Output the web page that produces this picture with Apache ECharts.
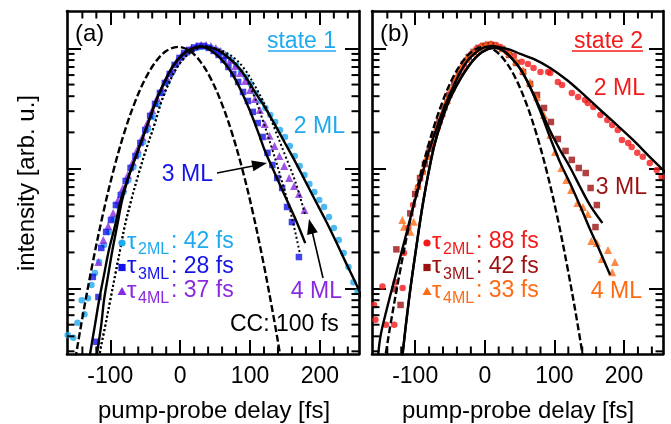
<!DOCTYPE html>
<html><head><meta charset="utf-8">
<script src="https://cdn.jsdelivr.net/npm/echarts@6/dist/echarts.min.js"></script>
<style>html,body{margin:0;padding:0;background:#fff}#c{width:671px;height:424px}</style>
</head><body><div id="c"></div>
<script>
// ---- tick values ----
const delayMajorTicks = [-100, 0, 100, 200];
const delayMinorTicks = [-140, -120, -80, -60, -40, -20, 20, 40, 60, 80, 120, 140, 160, 180, 220, 240];
const intensityMajorTicks = [0.01, 0.1, 1];
const intensityMinorTicks = [0.003, 0.004, 0.005, 0.006, 0.007, 0.008, 0.009,
  0.02, 0.03, 0.04, 0.05, 0.06, 0.07, 0.08, 0.09,
  0.2, 0.3, 0.4, 0.5, 0.6, 0.7, 0.8, 0.9];

// ---- panel (a): state 1 data [delay fs, intensity] ----
const a2ML = [[-161,0.0041],[-153,0.0039],[-147,0.0052],[-141,0.0080],[-137,0.0061],[-132,0.0083],[-127,0.0107],[-122,0.0135],
  [-116,0.0166],[-109,0.0230],[-102,0.0296],[-95,0.0380],[-88,0.0487],[-81,0.0637],[-74,0.0802],[-67,0.103],[-60,0.130],[-53,0.166],
  [-46,0.213],[-39,0.269],[-32,0.345],[-25,0.426],[-18,0.526],[-11,0.637],[-4,0.757],[3,0.849],[10,0.917],[17,0.972],[24,1.010],[31,1.029],[38,1.029],
  [45,1.010],[52,0.972],[59,0.917],[66,0.866],[73,0.802],[80,0.729],[87,0.637],[94,0.579],[101,0.506],[108,0.426],[115,0.365],[122,0.319],
  [129,0.279],[136,0.244],[143,0.209],[150,0.183],[157,0.154],[164,0.127],[171,0.105],[178,0.0883],[185,0.0743],[192,0.0637],[199,0.0546],
  [206,0.0478],[213,0.0394],[220,0.0319],[227,0.0254],[234,0.0198],[241,0.0151],[248,0.0113],[254,0.0094]];
const a3ML = [[-125,0.0125],[-120,0.0036],[-117,0.0085],[-113,0.0218],[-106,0.0296],[-99,0.0372],[-92,0.0496],[-85,0.0601],[-78,0.0787],
  [-71,0.101],[-64,0.127],[-57,0.163],[-50,0.209],[-43,0.274],[-36,0.345],[-29,0.426],[-22,0.516],[-15,0.613],[-8,0.729],[-1,0.833],
  [6,0.917],[13,0.972],[20,1.019],[27,1.049],[34,1.049],[41,1.010],[48,0.953],[55,0.883],[62,0.802],[69,0.701],[76,0.613],[83,0.526],
  [90,0.434],[97,0.365],[104,0.296],[111,0.239],[118,0.183],[125,0.135],[132,0.107],[139,0.0833],[146,0.0688],[153,0.0478],[160,0.0358],[170,0.0183]];
const a4ML = [[-117,0.0166],[-110,0.0254],[-103,0.0332],[-96,0.0426],[-89,0.0546],[-82,0.0688],[-75,0.0883],[-68,0.113],[-61,0.145],
  [-54,0.183],[-47,0.239],[-40,0.307],[-33,0.387],[-26,0.469],[-19,0.568],[-12,0.675],[-5,0.787],[2,0.883],[9,0.953],[16,1.010],[23,1.049],
  [30,1.070],[37,1.070],[44,1.049],[51,1.010],[58,0.953],[65,0.883],[72,0.802],[79,0.715],[86,0.625],[93,0.536],[100,0.451],[107,0.380],
  [114,0.307],[121,0.235],[128,0.187],[135,0.154],[142,0.127],[149,0.105],[156,0.0833],[163,0.0715],[170,0.0613],[178,0.0451]];
const aCC = [[-150,0.0026],[-140,0.0057],[-125,0.0166],[-110,0.0431],[-95,0.0986],[-80,0.199],[-65,0.354],[-50,0.558],[-35,0.776],[-20,0.951],
  [-3,1.03],[14,0.951],[29,0.776],[44,0.558],[59,0.354],[74,0.199],[89,0.0986],[104,0.0431],[119,0.0166],[134,0.0057],[144,0.0026],[155,0.0010]];
const aFit2ML = [[-123,0.00173],[-119,0.00285],[-113,0.00496],[-109,0.00802],[-103,0.0130],[-97,0.0209],[-90,0.0338],[-83,0.0546],[-73,0.0883],
  [-60,0.143],[-47,0.230],[-34,0.372],[-21,0.546],[-10,0.715],[3,0.883],[16,0.990],[29,1.039],[50,0.990],[64,0.883],[79,0.743],[93,0.590],
  [107,0.434],[122,0.319],[136,0.230],[150,0.163],[165,0.113],[179,0.0787],[193,0.0546],[208,0.0372],[222,0.0254],[236,0.0170],[257,0.00935],[265,0.0068]];
const aFit3ML = [[-135,0.00173],[-129,0.00285],[-122,0.00496],[-116,0.00802],[-109,0.0130],[-102,0.0209],[-93,0.0338],[-85,0.0546],[-73,0.0883],
  [-60,0.143],[-47,0.230],[-34,0.372],[-21,0.546],[-10,0.715],[3,0.883],[16,0.990],[29,1.039],[43,0.972],[57,0.833],[72,0.649],[86,0.460],
  [100,0.301],[112,0.198],[122,0.137],[136,0.0900],[150,0.0590],[165,0.0380],[179,0.0239]];
const aDot3ML = [[-117,0.00173],[-115,0.00285],[-107,0.00496],[-100,0.00802],[-93,0.0130],[-86,0.0209],[-79,0.0338],[-70,0.0546],[-60,0.0883],
  [-49,0.143],[-37,0.230],[-26,0.372],[-14,0.546],[-3,0.715],[10,0.883],[23,0.990],[36,1.039],[50,0.990],[64,0.900],[79,0.757],[93,0.579],
  [107,0.387],[120,0.235],[132,0.143],[143,0.0883],[158,0.0434],[171,0.0201]];
const aDot4ML = [[-117,0.00173],[-115,0.00285],[-107,0.00496],[-100,0.00802],[-93,0.0130],[-86,0.0209],[-79,0.0338],[-70,0.0546],[-60,0.0883],
  [-49,0.143],[-37,0.230],[-26,0.372],[-14,0.546],[-3,0.715],[10,0.883],[23,0.990],[36,1.039],[50,1.0],[64,0.935],[79,0.818],[93,0.662],
  [107,0.487],[122,0.332],[136,0.209],[150,0.130],[165,0.0772],[179,0.0410]];

// ---- panel (b): state 2 data ----
const b2ML = [[-159,0.0073],[-157,0.0055],[-147,0.0104],[-142,0.0050],[-130,0.0050],[-128,0.0113],[-118,0.0101],[-116,0.0198],
  [-110,0.0319],[-103,0.0496],[-96,0.0701],[-89,0.0935],[-82,0.125],[-75,0.163],[-68,0.218],[-61,0.279],[-54,0.358],[-47,0.451],[-40,0.568],
  [-33,0.688],[-26,0.802],[-19,0.900],[-12,0.990],[-5,1.039],[2,1.070],[9,1.090],[16,1.070],[22,1.029],[32,0.935],[42,0.866],[53,0.776],
  [62,0.743],[70,0.688],[80,0.637],[91,0.637],[94,0.625],[105,0.526],[111,0.496],[125,0.426],[134,0.394],[144,0.372],[148,0.351],[156,0.325],
  [166,0.279],[176,0.254],[183,0.230],[191,0.209],[197,0.173],[206,0.163],[211,0.151],[219,0.135],[227,0.125],[237,0.111],[247,0.0972],[254,0.0849]];
const b3ML = [[-130,0.0099],[-127,0.0212],[-121,0.0073],[-107,0.0423],[-100,0.0613],[-93,0.0833],[-86,0.109],[-79,0.146],[-72,0.194],
  [-65,0.249],[-58,0.325],[-51,0.410],[-44,0.516],[-37,0.625],[-30,0.743],[-23,0.849],[-16,0.935],[-9,1.010],[-2,1.049],[5,1.070],[12,1.059],
  [25,0.990],[35,0.883],[45,0.757],[55,0.637],[65,0.506],[75,0.410],[85,0.319],[95,0.244],[105,0.176],[116,0.140],[125,0.118],[135,0.101],
  [145,0.0917],[152,0.0688],[159,0.0325],[161,0.0496]];
const b4ML = [[-118.5,0.0372],[-116,0.0327],[-107,0.0297],[-102,0.0360],[-96.5,0.0715],[-89.5,0.0953],[-82.5,0.127],[-75.5,0.170],
  [-68.5,0.226],[-61.5,0.290],[-54.5,0.372],[-47.5,0.469],[-40.5,0.579],[-33.5,0.701],[-26.5,0.818],[-19.5,0.917],[-12.5,0.990],[-5.5,1.049],
  [1.5,1.080],[8.5,1.090],[15,1.059],[25,1.010],[35,0.917],[45,0.787],[55,0.662],[65,0.526],[75,0.394],[85,0.279],[94,0.190],[101,0.137],
  [110,0.101],[117,0.0802],[124,0.0662],[133,0.0516],[141,0.0478],[148,0.0418],[153,0.0249],[161,0.0239],[168,0.0176],[177,0.0209],[183,0.0137],[187,0.0166]];
const bCC = [[-151,0.00136],[-136,0.00479],[-121,0.0147],[-106,0.0400],[-91,0.0946],[-76,0.196],[-61,0.356],[-46,0.568],[-31,0.790],[-16,0.964],
  [-1,1.03],[14,0.964],[29,0.790],[44,0.568],[59,0.356],[74,0.196],[89,0.0946],[104,0.0400],[119,0.0147],[134,0.00479],[149,0.00136]];
const bFit2ML = [[-155,0.00209],[-150,0.00394],[-140,0.00701],[-128,0.0130],[-115,0.0254],[-102,0.0496],[-92,0.0802],[-81,0.135],[-69,0.218],
  [-58,0.325],[-46,0.469],[-35,0.637],[-24,0.802],[-12,0.935],[-1,1.019],[11,1.049],[22,1.019],[37,0.972],[51,0.900],[70,0.818],[94,0.688],
  [118,0.546],[141,0.418],[166,0.307],[190,0.230],[213,0.173],[234,0.130],[256,0.0972],[266,0.085]];
const bFit3ML = [[-121,0.00173],[-118,0.00285],[-109,0.00802],[-99,0.0209],[-88,0.0546],[-74,0.143],[-64,0.230],[-51,0.372],[-36,0.546],
  [-23,0.715],[-9,0.883],[5,0.990],[15,1.010],[25,0.972],[37,0.849],[51,0.675],[65,0.478],[80,0.313],[94,0.205],[108,0.143],[123,0.101],
  [137,0.0701],[151,0.0496],[169,0.0352]];
const bFit4ML = [[-121,0.00173],[-118,0.00285],[-109,0.00802],[-99,0.0209],[-88,0.0546],[-74,0.143],[-64,0.230],[-51,0.372],[-36,0.546],
  [-23,0.715],[-9,0.883],[5,0.990],[15,1.010],[25,0.972],[37,0.849],[51,0.675],[65,0.478],[80,0.296],[94,0.180],[108,0.113],[123,0.0743],
  [137,0.0487],[151,0.0313],[166,0.0201],[180,0.0130]];

// ---- styling ----
const FONT = '"Liberation Sans", Arial, Helvetica, sans-serif';
const C_A2 = '#1fa9ef', C_A3 = '#1414e8', C_A4 = '#8a2ae0';
const C_B2 = '#f41a1a', C_B3 = '#9e1010', C_B4 = '#ff6a14';
const X_MIN = -162, X_MAX = 256, Y_MIN = 0.00285, Y_MAX = 2.05;

function xAxes(g) {
  const base = {type: 'value', gridIndex: g, min: X_MIN, max: X_MAX, splitLine: {show: false}, axisLabel: {show: false}};
  const major = {show: true, inside: true, length: 14, lineStyle: {color: '#000', width: 2}, customValues: delayMajorTicks};
  const line = {show: true, onZero: false, lineStyle: {color: '#000', width: 2.6}};
  return [
    Object.assign({}, base, {position: 'bottom', axisLine: line, axisTick: major,
      axisLabel: {show: true, customValues: delayMajorTicks, color: '#000', fontSize: 23, fontFamily: FONT, margin: 11}}),
    Object.assign({}, base, {position: 'top', axisLine: line, axisTick: major})
  ];
}
function yAxes(g) {
  const base = {type: 'log', logBase: 10, gridIndex: g, min: Y_MIN, max: Y_MAX, splitLine: {show: false}, axisLabel: {show: false}};
  const major = {show: true, inside: true, length: 14, lineStyle: {color: '#000', width: 2}, customValues: intensityMajorTicks};
  const line = {show: true, onZero: false, lineStyle: {color: '#000', width: 2.6}};
  return [
    Object.assign({}, base, {position: 'left', axisLine: line, axisTick: major}),
    Object.assign({}, base, {position: 'right', axisLine: line, axisTick: major})
  ];
}
function scatter(data, xi, yi, symbol, size, color) {
  return {type: 'scatter', xAxisIndex: xi, yAxisIndex: yi, data: data, symbol: symbol, symbolSize: size,
    itemStyle: {color: color}, z: 2, silent: true};
}
function curve(data, xi, yi, kind) {
  const ls = {color: '#000', width: 2.4, type: 'solid'};
  if (kind === 'dashed') { ls.type = [7, 3]; ls.width = 2.4; }
  if (kind === 'dotted') { ls.type = [2, 2.5]; ls.width = 2; }
  return {type: 'line', xAxisIndex: xi, yAxisIndex: yi, data: data, showSymbol: false, smooth: 0.35,
    lineStyle: ls, z: 3, silent: true, clip: true};
}

const T = (text, x, y, size, color, align, extra) => Object.assign({type: 'text', x: x, y: y, z: 10, silent: true,
  style: {text: text, font: size + 'px ' + FONT, fill: color, align: align || 'left', textAlign: align || 'left',
    verticalAlign: 'middle', textVerticalAlign: 'middle'}}, extra || {});
const L = (x1, y1, x2, y2, color, w) => ({type: 'line', z: 10, silent: true,
  shape: {x1: x1, y1: y1, x2: x2, y2: y2}, style: {stroke: color, lineWidth: w}});
const P = (pts, color) => ({type: 'polygon', z: 10, silent: true, shape: {points: pts}, style: {fill: color}});

function legendRows(x0, rows) {
  const out = [];
  rows.forEach(function (r, i) {
    const y = 242 + i * 24.5;
    if (r.sym === 'circle') out.push({type: 'circle', z: 10, shape: {cx: x0, cy: y + 1, r: 3.6}, style: {fill: r.color}});
    if (r.sym === 'rect') out.push({type: 'rect', z: 10, shape: {x: x0 - 3.6, y: y - 2.6, width: 7.2, height: 7.2}, style: {fill: r.color}});
    if (r.sym === 'tri') out.push(P([[x0, y - 4], [x0 - 4.5, y + 4], [x0 + 4.5, y + 4]], r.color));
    out.push(T('τ', x0 + 5, y, 24, r.color));
    out.push(T(r.sub, x0 + 16, y + 8, 16, r.color));
    out.push(T(r.val, x0 + 49, y, 23, r.color));
  });
  return out;
}

const graphics = [
  T('intensity [arb. u.]', 27, 183, 24, '#000', 'center', {rotation: Math.PI / 2}),
  T('pump-probe delay [fs]', 214, 411, 24, '#000', 'center'),
  T('pump-probe delay [fs]', 518, 411, 24, '#000', 'center'),
  T('(a)', 75, 34, 24, '#000'),
  T('(b)', 380, 34, 24, '#000'),
  T('state 1', 336, 42, 23, C_A2, 'right'),
  L(268, 51, 336, 51, C_A2, 1.5),
  T('state 2', 643, 42, 23, C_B2, 'right'),
  L(572, 51, 643, 51, C_B2, 1.5),
  T('2 ML', 345, 127, 23, C_A2, 'right'),
  T('3 ML', 213, 175, 23, C_A3, 'right'),
  T('4 ML', 342, 292, 23, C_A4, 'right'),
  T('CC: 100 fs', 230, 325, 23, '#000'),
  T('2 ML', 645, 89, 23, C_B2, 'right'),
  T('3 ML', 647, 188, 23, C_B3, 'right'),
  T('4 ML', 642, 292, 23, C_B4, 'right'),
  L(217, 173, 253, 166, '#000', 1.6),
  P([[267, 163], [253.4, 171.3], [251.2, 160.5]], '#000'),
  L(323, 278, 312.5, 233, '#000', 1.6),
  P([[309, 219], [317.8, 232.3], [307.1, 234.9]], '#000')
].concat(legendRows(122, [
  {sym: 'circle', color: C_A2, sub: '2ML', val: ': 42 fs'},
  {sym: 'rect', color: C_A3, sub: '3ML', val: ': 28 fs'},
  {sym: 'tri', color: C_A4, sub: '4ML', val: ': 37 fs'}
])).concat(legendRows(427, [
  {sym: 'circle', color: C_B2, sub: '2ML', val: ': 88 fs'},
  {sym: 'rect', color: C_B3, sub: '3ML', val: ': 42 fs'},
  {sym: 'tri', color: C_B4, sub: '4ML', val: ': 33 fs'}
]));

const chart = echarts.init(document.getElementById('c'), null, {renderer: 'canvas'});
chart.setOption({
  animation: false,
  backgroundColor: '#fff',
  grid: [
    {left: 67, top: 11, width: 292, height: 343, containLabel: false},
    {left: 372, top: 11, width: 291, height: 343, containLabel: false}
  ],
  xAxis: xAxes(0).concat(xAxes(1)),
  yAxis: yAxes(0).concat(yAxes(1)),
  series: [
    scatter(a2ML, 0, 0, 'circle', 6.5, C_A2),
    scatter(a4ML, 0, 0, 'triangle', 8, C_A4),
    scatter(a3ML, 0, 0, 'rect', 6.5, C_A3),
    curve(aCC, 0, 0, 'dashed'),
    curve(aDot3ML, 0, 0, 'dotted'),
    curve(aDot4ML, 0, 0, 'dotted'),
    curve(aFit3ML, 0, 0, 'solid'),
    curve(aFit2ML, 0, 0, 'solid'),
    scatter(b2ML, 2, 2, 'circle', 6.5, C_B2),
    scatter(b3ML, 2, 2, 'rect', 6.5, C_B3),
    scatter(b4ML, 2, 2, 'triangle', 8, C_B4),
    curve(bCC, 2, 2, 'dashed'),
    curve(bFit2ML, 2, 2, 'solid'),
    curve(bFit3ML, 2, 2, 'solid'),
    curve(bFit4ML, 2, 2, 'solid')
  ]
});

// minor ticks on all four frame sides, positioned through each panel's own scales
function minorTickGraphics(seriesIndex) {
  const out = [];
  intensityMinorTicks.forEach(function (v) {
    const p = chart.convertToPixel({seriesIndex: seriesIndex}, [X_MIN, v]);
    const q = chart.convertToPixel({seriesIndex: seriesIndex}, [X_MAX, v]);
    out.push(L(p[0], p[1], p[0] + 7.5, p[1], '#000', 2), L(q[0] - 7.5, q[1], q[0], q[1], '#000', 2));
  });
  delayMinorTicks.forEach(function (t) {
    const b = chart.convertToPixel({seriesIndex: seriesIndex}, [t, Y_MIN]);
    const u = chart.convertToPixel({seriesIndex: seriesIndex}, [t, Y_MAX]);
    out.push(L(b[0], b[1], b[0], b[1] - 7.5, '#000', 2), L(u[0], u[1], u[0], u[1] + 7.5, '#000', 2));
  });
  return out;
}
chart.setOption({graphic: minorTickGraphics(0).concat(minorTickGraphics(8), graphics)});
</script></body></html>
